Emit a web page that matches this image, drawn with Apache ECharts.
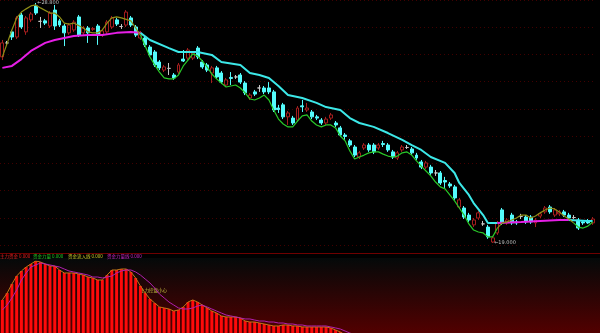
<!DOCTYPE html>
<html><head><meta charset="utf-8">
<script src="https://cdn.jsdelivr.net/npm/echarts@6/dist/echarts.min.js"></script>
<style>html,body{margin:0;padding:0;background:#000;}#c{width:600px;height:333px;}</style>
</head><body><div id="c"></div>
<script>
// ---- data ----
const categories = [];
for (let i = 1; i <= 125; i++) categories.push('D' + i);

// [open, close, low, high]
const candles = [
[26.60,27.17,26.47,27.29],[27.17,27.17,27.05,27.25],[27.62,27.41,27.29,27.70],[27.41,28.19,27.33,28.27],[28.31,27.82,27.74,28.39],
[27.62,28.19,27.50,28.27],[28.11,28.35,28.02,28.43],[28.68,28.39,28.31,28.80],[28.05,28.05,27.78,28.23],[28.07,27.98,27.90,28.15],
[27.86,28.39,27.78,28.47],[28.51,27.86,27.70,28.72],[28.07,27.90,27.82,28.15],[27.86,27.58,27.04,27.94],[27.58,27.90,27.50,27.98],
[27.70,28.02,27.62,28.10],[28.23,27.49,27.41,28.31],[27.58,27.78,27.50,27.86],[27.78,27.58,27.17,27.86],[27.72,27.76,27.66,27.82],
[27.86,27.49,27.09,27.94],[27.49,27.66,27.41,27.74],[27.62,28.02,27.54,28.10],[27.82,28.19,27.74,28.27],[28.11,27.94,27.86,28.19],
[27.84,27.84,27.74,27.94],[27.90,28.43,27.82,28.51],[28.19,27.90,27.82,28.27],[27.82,27.49,27.41,27.90],[27.37,27.58,27.29,27.66],
[27.37,27.09,27.00,27.45],[27.00,26.68,26.60,27.08],[26.80,26.27,26.19,26.88],[26.39,26.15,26.06,26.47],[26.06,26.19,25.98,26.27],
[26.13,26.13,25.86,26.35],[25.86,25.74,25.66,25.94],[25.98,26.27,25.90,26.35],[26.51,26.43,26.39,26.88],[26.55,26.88,26.47,26.96],
[26.55,26.76,26.47,26.84],[26.96,26.60,26.51,27.04],[26.39,26.19,26.11,26.47],[26.27,26.06,25.98,26.35],[25.94,26.15,25.53,26.23],
[26.15,25.78,25.70,26.23],[25.94,25.57,25.49,26.02],[25.45,25.66,25.37,25.74],[25.76,25.72,25.45,25.98],[25.78,25.78,25.70,25.86],
[25.86,25.57,25.49,25.94],[25.53,25.13,25.04,25.61],[24.92,25.04,24.84,25.12],[25.17,25.08,25.00,25.25],[25.33,25.33,25.17,25.45],
[25.33,25.17,25.08,25.41],[25.33,25.17,25.08,25.57],[25.17,24.43,24.35,25.25],[24.51,24.45,24.31,24.64],[24.64,24.15,24.06,24.72],
[24.15,24.31,23.82,24.39],[24.10,23.90,23.82,24.19],[24.02,24.51,23.94,24.59],[24.60,24.56,24.35,24.84],[24.43,24.51,24.35,24.72],
[24.35,24.15,24.06,24.43],[24.15,24.10,24.02,24.23],[24.02,23.90,23.82,24.10],[23.90,24.06,23.82,24.15],[24.10,24.23,24.02,24.31],
[23.90,23.82,23.74,23.98],[23.70,23.41,23.33,23.78],[23.41,23.35,23.21,23.49],[23.17,23.00,22.92,23.25],[22.92,22.59,22.51,23.00],
[22.51,22.68,22.43,22.76],[22.88,23.00,22.80,23.08],[23.00,22.80,22.72,23.08],[23.00,22.72,22.63,23.08],[22.88,23.00,22.80,23.08],
[23.06,23.02,22.92,23.17],[23.00,22.80,22.72,23.08],[22.72,22.51,22.43,22.80],[22.47,22.68,22.39,22.76],[22.80,22.92,22.72,23.00],
[22.90,22.90,22.84,23.00],[22.84,22.68,22.59,22.92],[22.59,22.47,22.39,22.68],[22.31,22.10,22.02,22.39],[22.10,22.27,22.02,22.35],
[22.10,21.86,21.78,22.19],[21.86,21.86,21.74,21.98],[21.86,21.45,21.37,21.94],[21.55,21.49,21.25,21.70],[21.41,21.33,21.25,21.49],
[21.29,20.84,20.76,21.37],[20.47,20.76,20.39,20.84],[20.43,20.06,19.98,20.51],[20.14,19.94,19.86,20.23],[19.74,19.94,19.65,20.02],
[20.02,20.23,19.94,20.31],[19.78,19.78,19.70,19.90],[19.65,19.25,19.17,19.74],[19.04,19.21,19.00,19.29],[19.41,19.82,19.33,19.90],
[20.35,19.82,19.74,20.43],[19.82,19.94,19.74,20.02],[20.14,19.82,19.74,20.23],[19.86,19.82,19.74,19.94],[20.08,20.08,19.98,20.19],
[20.06,19.86,19.78,20.14],[20.06,19.86,19.78,20.14],[19.82,19.94,19.65,20.02],[20.10,20.19,20.02,20.27],[20.27,20.43,20.19,20.51],
[20.47,20.27,20.19,20.55],[20.14,20.35,20.06,20.43],[20.19,20.27,20.10,20.35],[20.27,20.14,20.06,20.35],[20.14,20.02,19.94,20.23],
[20.04,20.04,19.98,20.14],[19.94,19.61,19.53,20.02],[19.86,19.82,19.74,19.94],[19.90,19.82,19.78,19.98],[19.82,19.98,19.74,20.06]
];

// thick trend line: magenta where price is above it, cyan where below  ([index, price])
const trendMagentaA = [[0,26.15],[2,26.23],[4,26.51],[6,26.84],[9,27.17],[11,27.29],[13,27.37],[15,27.45],[18,27.49],[21,27.49],[24,27.58],[27,27.62],[29,27.58]];
const trendCyan = [[29,27.58],[31,27.29],[35,26.96],[37,26.80],[41,26.80],[44,26.68],[46,26.39],[50,26.27],[52,25.94],[54,25.86],[56,25.74],[58,25.41],[60,25.04],[63,24.92],[66,24.72],[68,24.55],[71,24.43],[73,24.10],[75,23.90],[78,23.74],[81,23.49],[84,23.21],[86,23.00],[88,22.80],[90,22.51],[93,22.27],[95,21.86],[96,21.45],[98,20.96],[99,20.63],[101,20.14],[102,19.82],[104,19.82]];
const trendMagentaB = [[104,19.82],[109,19.86],[113,19.90],[117,19.94],[119,19.94]];
const trendCyanB = [[119,19.94],[123,19.90],[124,19.90]];

// thin swing line: olive in up phase, green in down phase
const swingOliveA = [[0,26.60],[2,27.70],[3,28.19],[4,28.43],[5,28.56],[6,28.68],[7,28.72],[8,28.60],[10,28.39],[11,28.39],[12,28.23],[13,27.98],[14,27.94],[15,27.98],[17,27.78],[18,27.62],[19,27.58],[20,27.58],[21,27.70],[22,27.98],[23,28.19],[24,28.23],[25,28.19],[27,28.07],[28,27.78],[29,27.49]];
const swingGreenA = [[29,27.49],[30,27.04],[31,26.60],[32,26.27],[33,25.98],[34,25.74],[35,25.70],[36,25.70],[37,25.86],[38,26.23],[39,26.47],[40,26.72],[41,26.64],[42,26.43],[43,26.19],[44,25.90],[45,25.70],[46,25.53],[47,25.37],[48,25.41],[49,25.45],[50,25.33],[51,25.13],[52,24.88],[53,24.84],[54,24.92],[55,25.04],[56,24.84],[57,24.43],[58,24.06],[59,23.86],[60,23.74],[61,23.74],[62,23.98],[63,24.19],[64,24.23],[65,23.98],[66,23.82],[67,23.74],[68,23.82],[69,23.82],[70,23.70],[71,23.37],[72,23.17],[73,22.76],[74,22.43],[75,22.51],[76,22.59],[77,22.68],[78,22.72],[79,22.72],[80,22.63],[81,22.55],[82,22.51],[83,22.55],[84,22.68],[85,22.72],[86,22.59],[87,22.35],[88,22.14],[89,21.94],[90,21.74],[91,21.49],[92,21.29],[93,21.21],[94,20.96],[95,20.72],[96,20.43],[97,20.14],[98,19.78],[99,19.53],[100,19.45],[101,19.41],[102,19.25],[103,19.25],[104,19.61]];
const swingOliveB = [[104,19.61],[105,19.82],[106,19.86],[107,19.94],[108,20.02],[109,20.14],[110,20.14],[111,20.02],[112,20.10],[113,20.23],[114,20.35],[115,20.43],[116,20.39],[117,20.27],[118,20.10],[119,19.98],[120,19.82]];
const swingGreenB = [[120,19.82],[121,19.65],[122,19.61],[123,19.69],[124,19.86]];

// lower panel
const fundBars = [56.7,64.4,74.4,83.3,88.9,93.3,96.7,100,98.9,96.7,94.4,94.4,90,86.7,86.7,86.7,85.6,84.4,82.2,81.1,78.9,78.9,84.4,90,90,91.1,91.1,87.8,81.1,72.2,64.4,57.8,53.3,48.9,47.8,46.7,44.4,45.6,48.9,54.4,56.7,54.4,51.1,47.8,44.4,42.2,38.9,37.8,37.8,37.8,36.7,33.3,32.2,32.2,31.1,30,28.9,27.8,27.8,28.9,28.9,27.8,27.8,26.7,26.7,26.7,26.7,26.7,26.7,25.6,23.3,21.1,17.8,
17,16,15.5,15,14.5,14,13.5,13,13,12.5,12,12,11.5,11,11,10.5,10,10,9.5,9,9,8.5,8,8,8,7.5,7,7,7,6.5,6,6,6,6,5.5,5.5,5,5,5,5,5,4.5,4.5,4.5,4,4,4,4,4,4,4,4];
const fundLine = [45.6,51.1,58.9,67.8,78.9,86.7,93.3,95.6,97.8,96.7,95.6,94.4,93.3,91.1,88.9,87.8,86.7,85.6,84.4,82.2,82.2,81.1,82.2,83.3,86.7,88.9,90,90,87.8,84.4,80,75.6,70,63.3,58.9,54.4,51.1,47.8,46.7,46.7,47.8,50,51.1,48.9,46.7,44.4,42.2,40,38.9,37.8,36.7,35.6,35.6,34.4,33.3,33.3,32.2,32.2,31.1,31.1,30,30,28.9,28.9,27.8,27.8,27.8,27.8,27.8,26.7,25.6,24.4,22.2,20,17.8,
16.5,15.5,15,14.5,14,13.5,13,12.5,12,11.5,11,11,10.5,10,10,9.5,9,9,8.5,8,8,7.5,7.5,7,7,6.5,6.5,6,6,6,5.5,5.5,5.5,5,5,5,5,4.8,4.8,4.6,4.6,4.5,4.5,4.4,4.3,4.2,4.2,4.1,4.1,4];
const panelLabels = [
  {text:'主力资金 0.000', color:'#e82020'},
  {text:'资金力量 0.000', color:'#22c822'},
  {text:'资金流入线 0.000', color:'#c8c828'},
  {text:'资金力量线 0.000', color:'#c828c8'}
];
const noteText = '主力控盘小心';

// ---- chart ----
const chart = echarts.init(document.getElementById('c'), null, {renderer:'canvas'});
const lineS = (data, color, width, z) => ({
  type:'line', xAxisIndex:0, yAxisIndex:0, data, showSymbol:false, symbol:'none',
  lineStyle:{color, width}, z: z || 4, animation:false, silent:true
});
const labelX = [0, 33, 68, 107];
const graphics = [
  {type:'rect', shape:{x:0,y:258,width:600,height:75}, z:-10,
   style:{fill:new echarts.graphic.LinearGradient(0,0,0,1,[{offset:0,color:'#040909'},{offset:1,color:'#520000'}])}},
  {type:'line', shape:{x1:0,y1:253.5,x2:600,y2:253.5}, style:{stroke:'#6e0000', lineWidth:1}},
  {type:'text', x:140, y:290, style:{text:noteText, fill:'#c8c040', font:'4.5px "Noto Sans CJK SC"', textVerticalAlign:'middle'}}
];
panelLabels.forEach((l, k) => graphics.push({type:'text', x:labelX[k], y:256.5,
  style:{text:l.text, fill:l.color, font:'4.5px "Noto Sans CJK SC"', textVerticalAlign:'middle'}}));

chart.setOption({
  backgroundColor:'#000',
  animation:false,
  grid:[{left:0,right:5,top:0,height:245},{left:0,right:5,top:261,height:72}],
  xAxis:[
    {type:'category', gridIndex:0, data:categories, show:false, boundaryGap:true},
    {type:'category', gridIndex:1, data:categories, show:false, boundaryGap:true}
  ],
  yAxis:[
    {type:'value', gridIndex:0, min:18.918, max:28.922, show:false, splitLine:{show:false}},
    {type:'value', gridIndex:0, min:0, max:9, interval:1, axisLine:{show:false}, axisTick:{show:false}, axisLabel:{show:false},
     splitLine:{show:true, lineStyle:{color:'#420000', type:[1,3], width:1}}},
    {type:'value', gridIndex:1, min:20, max:100, show:false, splitLine:{show:false}}
  ],
  graphic: graphics,
  series:[
    {type:'candlestick', xAxisIndex:0, yAxisIndex:0, data:candles, barWidth:'72%', z:2,
     itemStyle:{color:'rgba(0,0,0,0)', color0:'#54fcfc', borderColor:'#a41e1e', borderColor0:'#54fcfc', borderColorDoji:'#c8c8c8', borderWidth:1},
     markPoint:{symbol:'circle', symbolSize:1, itemStyle:{color:'rgba(0,0,0,0)'},
       label:{show:true, position:'right', color:'#c0c0c0', fontSize:5, fontFamily:'DejaVu Sans', distance:1,
              formatter:p => '←' + Number(p.value).toFixed(3)},
       data:[{type:'max', valueDim:'highest'},{type:'min', valueDim:'lowest'}]}},
    lineS(trendMagentaA, '#e61ee6', 2),
    lineS(trendCyan, '#3ce8e8', 2),
    lineS(trendMagentaB, '#e61ee6', 2),
    lineS(trendCyanB, '#3ce8e8', 2),
    lineS(swingOliveA, '#8e8e16', 1.2, 5),
    lineS(swingGreenA, '#28c828', 1.2, 5),
    lineS(swingOliveB, '#8e8e16', 1.2, 5),
    lineS(swingGreenB, '#28c828', 1.2, 5),
    {type:'bar', xAxisIndex:1, yAxisIndex:2, data:fundBars, barWidth:'62%', itemStyle:{color:'#ff0a0a'}, z:2},
    {type:'line', xAxisIndex:1, yAxisIndex:2, data:fundBars, showSymbol:false, symbol:'none', lineStyle:{color:'#c07818', width:1}, z:3},
    {type:'line', xAxisIndex:1, yAxisIndex:2, data:fundLine, showSymbol:false, symbol:'none', lineStyle:{color:'#b020b0', width:1}, z:4}
  ]
});
</script></body></html>
